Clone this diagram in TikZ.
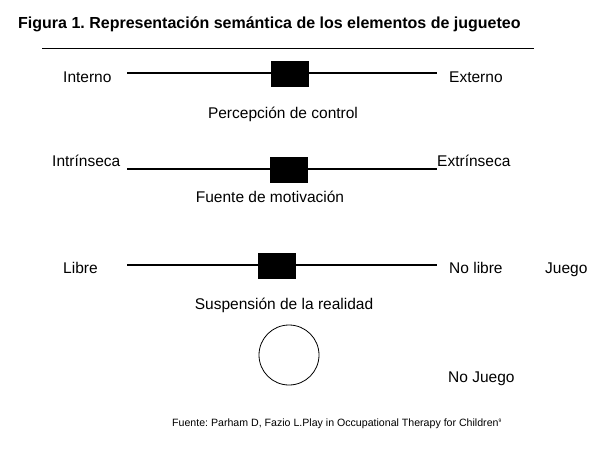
\documentclass[tikz,border=0pt]{standalone}
\usepackage{fontspec}
\setmainfont{Liberation Sans}
\frenchspacing

\begin{document}
\begin{tikzpicture}[x=1pt,y=-1pt,
  lbl/.style={anchor=base west,inner sep=0pt,font=\fontsize{15.5}{18}\selectfont},
  etiqueta/.style={anchor=base,inner sep=0pt,font=\fontsize{15.5}{18}\selectfont},
  knob/.style={fill=black,inner sep=0pt,minimum width=38pt,minimum height=26pt},
  axis/.style={line width=2.2pt}]
\useasboundingbox (0,0) rectangle (607,450);
\node[anchor=base west,inner sep=0pt,font=\bfseries\fontsize{16}{19}\selectfont] (titulo) at (18,28) {Figura 1. Representación semántica de los elementos de jugueteo};
\coordinate (r1) at (42,48);
\coordinate (r2) at (534,48);
\draw[line width=1pt] (r1)--(r2);
% percepcion de control
\coordinate (a1) at (127,73);
\coordinate (b1) at (437,73);
\draw[axis] (a1)--(b1);
\node[knob] (k1) at (289.5,74) {};
\node[lbl] (interno) at (63,82) {Interno};
\node[lbl] (externo) at (449,82) {Externo};
\node[etiqueta] (control) at (283,118) {Percepción de control};
% fuente de motivacion
\coordinate (a2) at (127,169);
\coordinate (b2) at (437,169);
\draw[axis] (a2)--(b2);
\node[knob] (k2) at (288.5,169.5) {};
\node[lbl] (intrinseca) at (52,166) {Intrínseca};
\node[lbl] (extrinseca) at (437,166) {Extrínseca};
\node[etiqueta] (motivacion) at (270,202) {Fuente de motivación};
% suspension de la realidad
\coordinate (a3) at (127,265);
\coordinate (b3) at (437,265);
\draw[axis] (a3)--(b3);
\node[knob] (k3) at (276.5,265.5) {};
\node[lbl] (libre) at (63,273) {Libre};
\node[lbl] (nolibre) at (449,273) {No libre};
\node[lbl] (juego) at (545,273) {Juego};
\node[etiqueta] (realidad) at (284,309) {Suspensión de la realidad};
% no juego
\node[draw,circle,line width=0.8pt,minimum size=60pt,inner sep=0pt] (circulo) at (289,355) {};
\node[lbl] (nojuego) at (448,382) {No Juego};
\node[anchor=base west,inner sep=0pt,font=\fontsize{10.6}{12}\selectfont] (fuente) at (172,426) {Fuente: Parham D, Fazio L.Play in Occupational Therapy for Children\textsuperscript{\tiny 9}};
\end{tikzpicture}
\end{document}
